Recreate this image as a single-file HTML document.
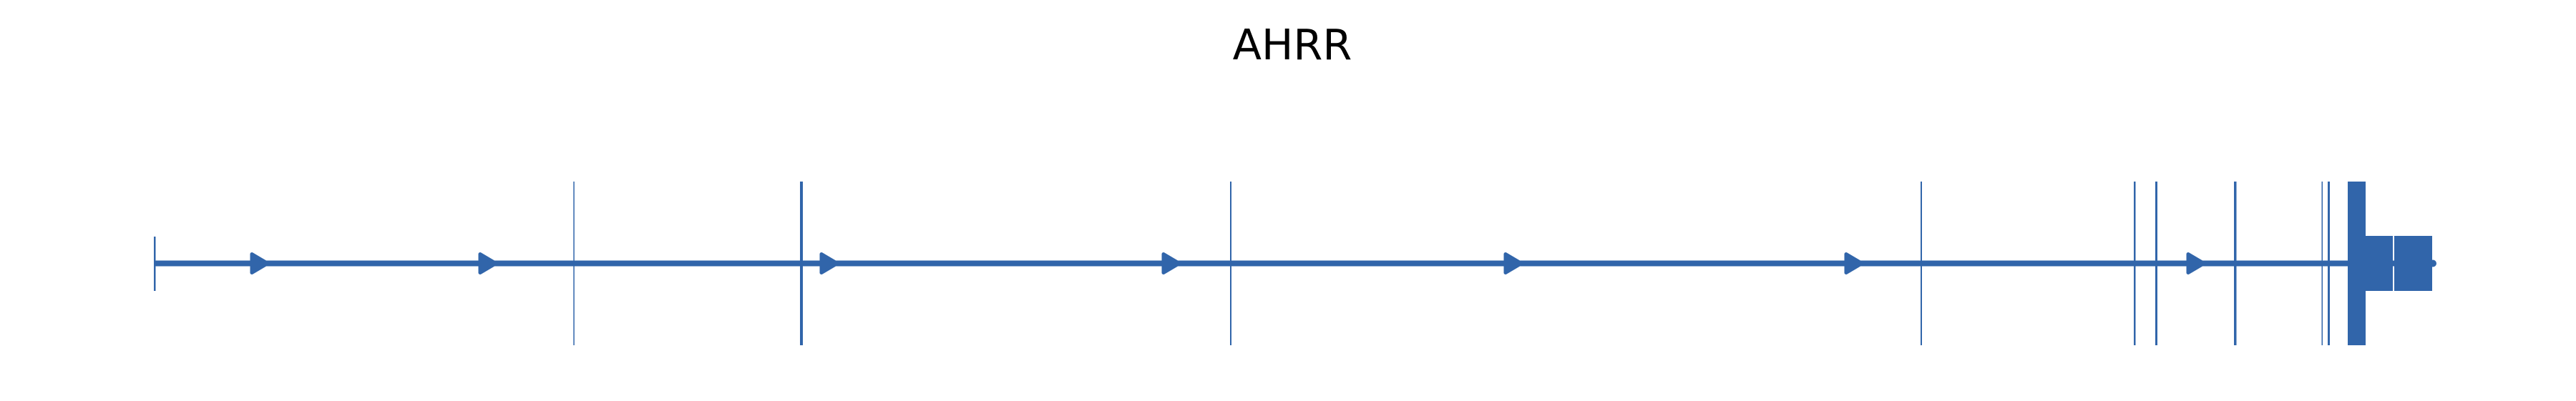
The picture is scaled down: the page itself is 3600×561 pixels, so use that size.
<!DOCTYPE html>
<html><head><meta charset="utf-8"><style>
html,body{margin:0;padding:0;background:#fff;}
svg{display:block;}
</style></head><body>
<svg width="3600" height="561" viewBox="0 0 3600 561" xmlns="http://www.w3.org/2000/svg">
<text x="1806" y="83" font-family="DejaVu Sans, Liberation Sans, sans-serif" font-size="59" text-anchor="middle" fill="#000">AHRR</text>
<g fill="#3165aa" stroke="none">
<rect x="216" y="364.5" width="3186" height="8"/>
<circle cx="3400" cy="368.5" r="5"/>
<rect x="215" y="331" width="2.5" height="76"/>
<rect x="801.3" y="254" width="1.5" height="229"/>
<rect x="1118" y="254" width="4" height="229"/>
<rect x="1719" y="254" width="2" height="229"/>
<rect x="2684" y="254" width="2" height="229"/>
<rect x="2982" y="254" width="2.5" height="229"/>
<rect x="3012" y="254" width="3" height="229"/>
<rect x="3122" y="254" width="3.5" height="229"/>
<rect x="3244.5" y="254" width="1.5" height="229"/>
<rect x="3253" y="254" width="3" height="229"/>
<rect x="3281" y="254" width="25" height="229"/>
<rect x="3306" y="330" width="38" height="77"/>
<rect x="3346" y="330" width="53" height="77"/>
</g>
<g fill="#3165aa" stroke="#3165aa" stroke-width="5" stroke-linejoin="round">
<polygon points="352,355.5 352,381.5 374,368.5"/>
<polygon points="671,355.5 671,381.5 693,368.5"/>
<polygon points="1148,355.5 1148,381.5 1170,368.5"/>
<polygon points="1626,355.5 1626,381.5 1648,368.5"/>
<polygon points="2104,355.5 2104,381.5 2126,368.5"/>
<polygon points="2580,355.5 2580,381.5 2602,368.5"/>
<polygon points="3058,355.5 3058,381.5 3080,368.5"/>
</g>
</svg>
</body></html>
